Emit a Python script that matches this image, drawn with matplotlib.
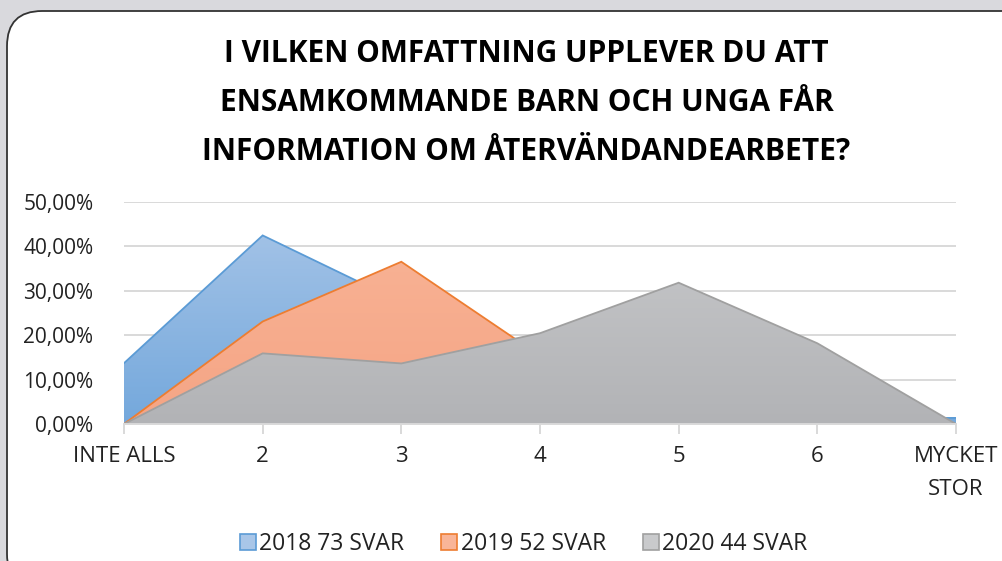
import numpy as np
import matplotlib.pyplot as plt
from matplotlib.patches import FancyBboxPatch, Patch
from matplotlib.colors import LinearSegmentedColormap
from matplotlib.ticker import FuncFormatter

categories = ["INTE ALLS", "2", "3", "4", "5", "6", "MYCKET\nSTOR"]
series_names = ["2018 73 SVAR", "2019 52 SVAR", "2020 44 SVAR"]
# andel svar per svarsalternativ (i procent)
values_2018 = [13.70, 42.47, 27.40, 8.22, 5.48, 1.37, 1.37]
values_2019 = [0.0, 23.08, 36.54, 15.38, 17.31, 7.69, 0.0]
values_2020 = [0.0, 15.91, 13.64, 20.45, 31.82, 18.18, 0.0]

title = ("I VILKEN OMFATTNING UPPLEVER DU ATT\n"
         "ENSAMKOMMANDE BARN OCH UNGA FÅR\n"
         "INFORMATION OM ÅTERVÄNDANDEARBETE?")

edge_colors = ["#5b9bd5", "#ed7d31", "#a0a0a0"]
grad_colors = [("#a9c6e8", "#74a8dc"),
               ("#f9b598", "#f5a585"),
               ("#c9cacc", "#b2b3b6")]

plt.rcParams['font.family'] = ['Open Sans', 'DejaVu Sans']

fig = plt.figure(figsize=(10.03, 5.61), dpi=100)
fig.patch.set_facecolor("#d9d9dd")

# rounded white panel
panel = FancyBboxPatch((7 / 1003, -0.05), 1.05, (561 - 11) / 561 + 0.05,
                       boxstyle="round,pad=0,rounding_size=0.035",
                       transform=fig.transFigure, facecolor="white",
                       edgecolor="#333333", linewidth=1.3,
                       mutation_aspect=1003 / 561, zorder=-5)
fig.patches.append(panel)

ax = fig.add_axes([124 / 1003, (561 - 424) / 561, 832 / 1003, 222 / 561])
ax.set_facecolor("none")

x = np.arange(len(categories))
ymax = 50
series = [values_2018, values_2019, values_2020]
for i, (vals, ec, (ctop, cbot)) in enumerate(zip(series, edge_colors, grad_colors)):
    z = 2 + 2 * i
    poly = ax.fill_between(x, 0, vals, facecolor="none", edgecolor="none")
    cmap = LinearSegmentedColormap.from_list("g", [cbot, ctop])
    grad = np.linspace(1, 0, 256).reshape(-1, 1)
    im = ax.imshow(grad, cmap=cmap, aspect="auto", extent=[0, len(x) - 1, 0, ymax],
                   origin="upper", zorder=z, interpolation="bilinear")
    im.set_clip_path(poly.get_paths()[0], transform=ax.transData)
    ax.plot(x, vals, color=ec, lw=1.3, zorder=z + 0.5, solid_joinstyle="miter")

ax.set_xlim(0, len(x) - 1)
ax.set_ylim(0, ymax)
ax.set_yticks(np.arange(0, 51, 10))
ax.yaxis.set_major_formatter(FuncFormatter(lambda v, p: f"{v:.2f}%".replace(".", ",")))
ax.set_xticks(x)
ax.set_xticklabels(categories, linespacing=1.75)
ax.grid(axis="y", color="#d9d9d9", lw=1.4, zorder=0)
ax.set_axisbelow(True)
for s in ["top", "right", "left"]:
    ax.spines[s].set_visible(False)
ax.spines["bottom"].set_color("#d9d9d9")
ax.spines["bottom"].set_linewidth(1.4)
ax.spines["bottom"].set_zorder(10)
ax.tick_params(axis="y", length=0, pad=22, labelsize=15, labelcolor="#222222")
ax.tick_params(axis="x", length=7, width=1.4, color="#d9d9d9", pad=9,
               labelsize=16, labelcolor="#222222")

fig.text(0.525, 0.93, title, ha="center", va="top", fontsize=21.5,
         fontweight="bold", linespacing=1.82, color="#000000")

handles = [Patch(facecolor=c[0], edgecolor=e, lw=1.2) for c, e in zip(grad_colors, edge_colors)]
fig.legend(handles, series_names, loc="center", bbox_to_anchor=(0.522, 0.03),
           ncol=3, frameon=False, fontsize=16.5, handlelength=0.7, handleheight=0.7,
           handletextpad=0.15, columnspacing=1.6, labelcolor="#222222")

fig.savefig("out.png", dpi=100, facecolor=fig.get_facecolor())
